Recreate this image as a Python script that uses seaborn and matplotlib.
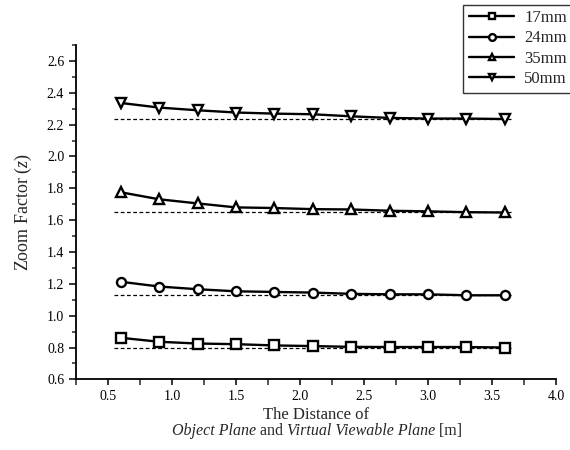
import numpy as np
import pandas as pd
import seaborn as sns
import matplotlib
matplotlib.use("Agg")
import matplotlib.pyplot as plt
from matplotlib.ticker import MultipleLocator
from matplotlib.offsetbox import TextArea, HPacker, AnchoredOffsetbox

# Distance between object plane and virtual viewable plane [m]
distance = [0.6, 0.9, 1.2, 1.5, 1.8, 2.1, 2.4, 2.7, 3.0, 3.3, 3.6]

# Measured zoom factor for each focal length
zoom_17mm = [0.861, 0.836, 0.825, 0.821, 0.813, 0.809, 0.804, 0.803, 0.803, 0.803, 0.800]
zoom_24mm = [1.213, 1.183, 1.166, 1.153, 1.149, 1.145, 1.137, 1.134, 1.134, 1.128, 1.128]
zoom_35mm = [1.775, 1.731, 1.705, 1.680, 1.676, 1.669, 1.667, 1.659, 1.655, 1.650, 1.648]
zoom_50mm = [2.336, 2.307, 2.290, 2.276, 2.269, 2.265, 2.252, 2.242, 2.238, 2.238, 2.235]

# Theoretical (asymptotic) zoom factor for each focal length
theory = [0.795, 1.128, 1.648, 2.233]

labels = ["17mm", "24mm", "35mm", "50mm"]
markers = ["s", "o", "^", "v"]

sns.set_style("ticks")
plt.rcParams["font.family"] = ["Liberation Serif", "DejaVu Serif"]
plt.rcParams["mathtext.fontset"] = "custom"
plt.rcParams["mathtext.rm"] = "Liberation Serif"
plt.rcParams["mathtext.it"] = "Liberation Serif:italic"

series = [zoom_17mm, zoom_24mm, zoom_35mm, zoom_50mm]
frames = []
for lab, vals in zip(labels, series):
    frames.append(pd.DataFrame({"distance": distance, "zoom": vals, "lens": lab}))
df = pd.concat(frames, ignore_index=True)

fig = plt.figure(figsize=(5.7, 4.5), dpi=100)
ax = fig.add_axes([0.1333, 0.157, 0.842, 0.743])

for lab, mk, th in zip(labels, markers, theory):
    sub = df[df["lens"] == lab]
    ax.plot([0.55, 3.65], [th, th], ls=(0, (3, 2)), color="black", lw=0.9, zorder=1)
    sns.lineplot(data=sub, x="distance", y="zoom", ax=ax, color="black",
                 marker=mk, markersize=6.5, markerfacecolor="white",
                 markeredgecolor="black", markeredgewidth=1.7, linewidth=1.7,
                 label=lab, zorder=3)

ax.set_xlim(0.25, 4.0)
ax.set_ylim(0.6, 2.7)
ax.xaxis.set_major_locator(MultipleLocator(0.5))
ax.xaxis.set_minor_locator(MultipleLocator(0.25))
ax.yaxis.set_major_locator(MultipleLocator(0.2))
ax.yaxis.set_minor_locator(MultipleLocator(0.1))
ax.set_yticks(np.arange(0.6, 2.61, 0.2))
ax.tick_params(which="major", direction="out", length=5, width=1.1, labelsize=10, colors="black")
ax.tick_params(which="minor", direction="out", length=3, width=1.1)
ax.tick_params(axis="x", which="both", length=4)

for side in ["top", "right"]:
    ax.spines[side].set_visible(False)
for side in ["left", "bottom"]:
    ax.spines[side].set_linewidth(1.3)
    ax.spines[side].set_color("black")

ax.set_ylabel("Zoom Factor ($z$)", fontsize=13, labelpad=9)
ax.set_xlabel("The Distance of", fontsize=12, labelpad=3)

# Second line of the x label, mixing italic and upright text
fs = 11.5
parts = [TextArea("Object Plane", textprops=dict(fontsize=fs, style="italic")),
         TextArea(" and ", textprops=dict(fontsize=fs)),
         TextArea("Virtual Viewable Plane", textprops=dict(fontsize=fs, style="italic")),
         TextArea(" [m]", textprops=dict(fontsize=fs))]
line2 = HPacker(children=parts, align="baseline", pad=0, sep=0)
anchored = AnchoredOffsetbox(loc="center", child=line2, pad=0, frameon=False,
                             bbox_to_anchor=(0.556, 0.042),
                             bbox_transform=fig.transFigure, borderpad=0)
fig.add_artist(anchored)

ax.get_legend().remove()
handles, labs = ax.get_legend_handles_labels()
leg = fig.legend(handles, labs, loc="upper right", bbox_to_anchor=(1.005, 0.99),
                 frameon=True, fancybox=False, edgecolor="black", fontsize=12,
                 handlelength=2.7, handletextpad=0.6, labelspacing=0.25,
                 borderpad=0.35, markerscale=0.75, borderaxespad=0)
leg.get_frame().set_linewidth(1.0)

fig.savefig("out.png", dpi=100)
